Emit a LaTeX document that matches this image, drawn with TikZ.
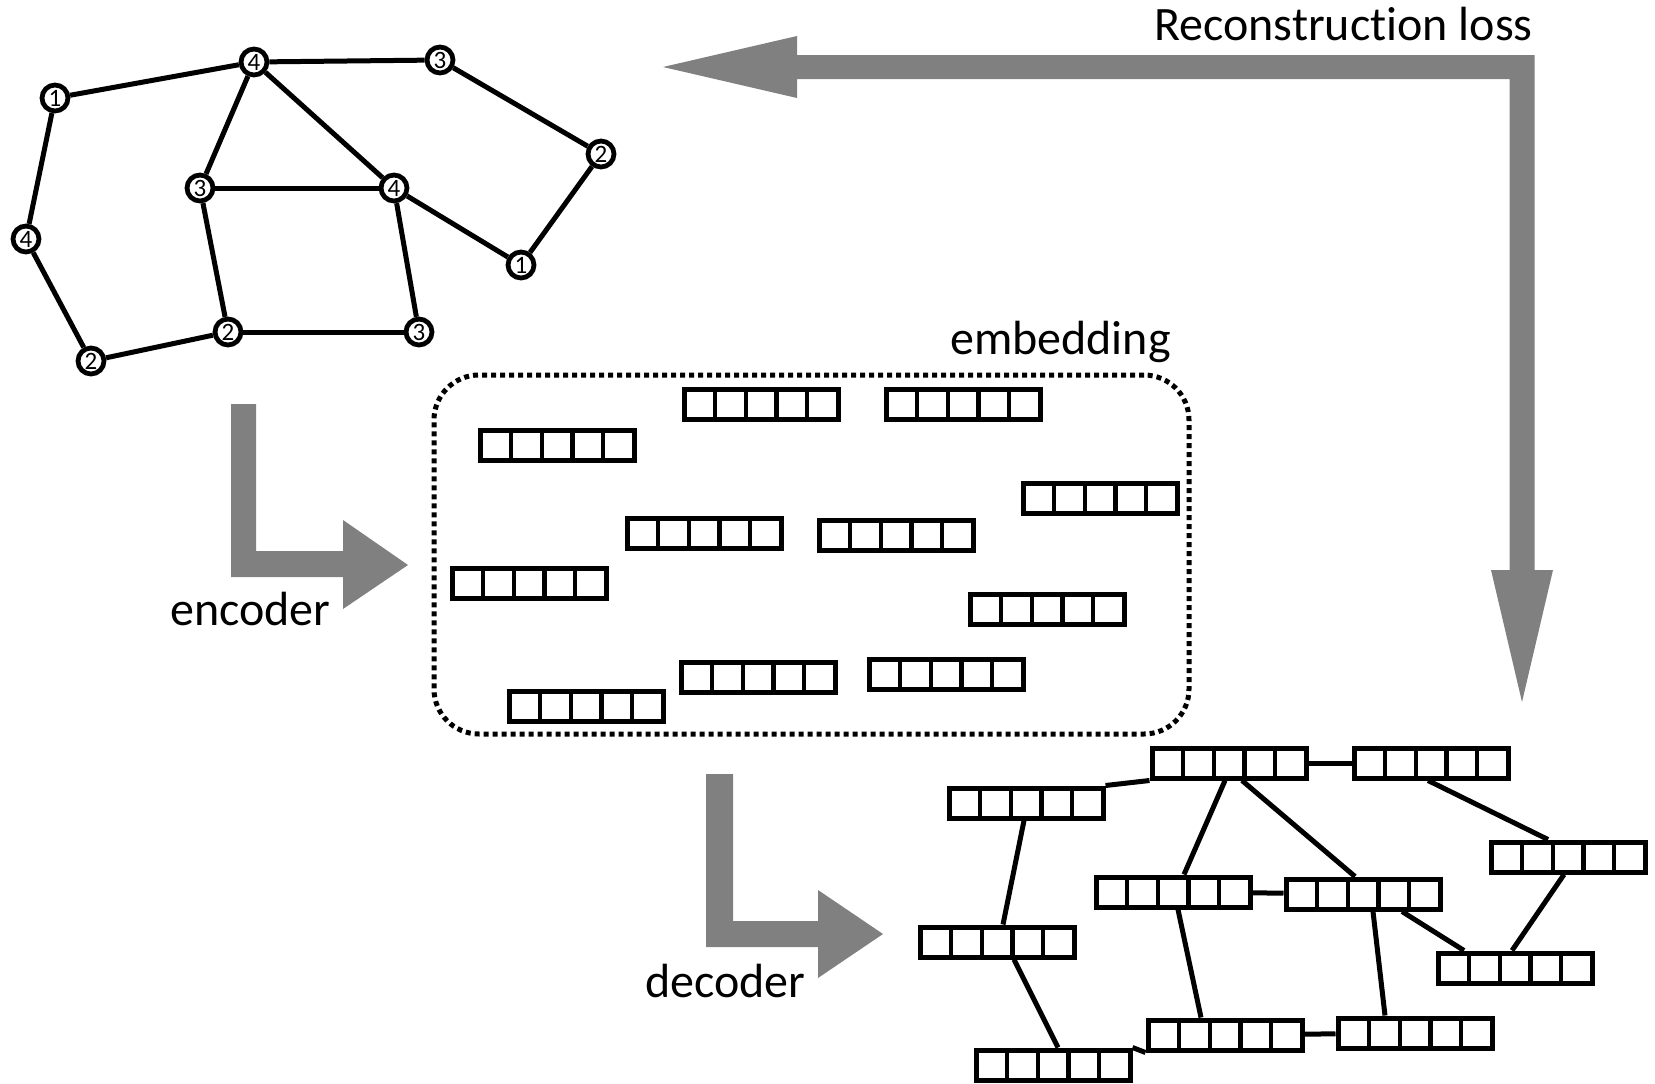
\documentclass[tikz,border=0pt]{standalone}
\usepackage{fontspec}
\setmainfont{Carlito}[Ligatures=NoCommon]
\usetikzlibrary{calc}
\begin{document}
\begin{tikzpicture}[x=1pt,y=-1pt,
  vec/.style={draw, line width=5pt, minimum width=154pt, minimum height=30pt, inner sep=0pt,
    path picture={\foreach \i in {1,2,3,4}{\draw[line width=4.2pt] ($(path picture bounding box.south west)!\i/5!(path picture bounding box.south east)$) -- ($(path picture bounding box.north west)!\i/5!(path picture bounding box.north east)$);}}},
  gn/.style={circle, draw, line width=4.8pt, minimum size=26pt, inner sep=0pt, fill=white, font=\fontsize{25}{25}\selectfont},
  ed/.style={line width=5pt},
  arr/.style={fill=black!50, draw=none},
  lbl/.style={inner sep=0pt, anchor=base west, font=\fontsize{48}{52}\selectfont}]
\useasboundingbox (0,0) rectangle (1655,1084);

% gray arrows
\fill[arr] (663,67) -- (797,36) -- (797,55) -- (1534.5,55) -- (1534.5,570) -- (1553,570) -- (1522,702) -- (1491,570) -- (1509.5,570) -- (1509.5,79) -- (797,79) -- (797,98) -- cycle;
\fill[arr] (231,404) -- (256,404) -- (256,551) -- (343,551) -- (343,520) -- (408,565) -- (343,609) -- (343,577) -- (231,577) -- cycle;
\fill[arr] (706,774) -- (733,774) -- (733,921) -- (818,921) -- (818,890) -- (883,934) -- (818,978) -- (818,947) -- (706,947) -- cycle;

% labels
\node[lbl, anchor=base east] (rl) at (1533,40) {Reconstruction loss};
\node[lbl] (embl) at (950,354) {embedding};
\node[lbl] (encl) at (170,625) {encoder};
\node[lbl] (decl) at (645,997) {decoder};

% top-left graph
\node[gn] (g1) at (55,98) {1};
\node[gn] (g4a) at (254,62) {4};
\node[gn] (g3a) at (440,60) {3};
\node[gn] (g2a) at (601,154) {2};
\node[gn] (g3b) at (200,188) {3};
\node[gn] (g4b) at (394,188) {4};
\node[gn] (g1b) at (521,265) {1};
\node[gn] (g4c) at (26,239) {4};
\node[gn] (g2b) at (91,361) {2};
\node[gn] (g2c) at (228,332) {2};
\node[gn] (g3c) at (419,332) {3};
\foreach \a/\b in {g1/g4a, g1/g4c, g4c/g2b, g2b/g2c, g4a/g3a, g4a/g3b, g4a/g4b, g3a/g2a, g2a/g1b, g3b/g4b, g3b/g2c, g4b/g1b, g4b/g3c, g2c/g3c}
  \draw[ed] (\a) -- (\b);

% embedding box
\node[draw, line width=5pt, dash pattern=on 5pt off 4pt, rounded corners=45pt, minimum width=755pt, minimum height=359pt, inner sep=0pt] (emb) at (811.5,554.5) {};
\node[vec] (e1) at (761,404) {};
\node[vec] (e2) at (963,404) {};
\node[vec] (e3) at (557,445) {};
\node[vec] (e4) at (1100,498) {};
\node[vec] (e5) at (704,533) {};
\node[vec] (e6) at (896,535) {};
\node[vec] (e7) at (529,583) {};
\node[vec] (e8) at (1047,609) {};
\node[vec] (e9) at (758,677) {};
\node[vec] (e10) at (946,674) {};
\node[vec] (e11) at (586,706) {};

% bottom-right graph
\node[vec] (b1) at (1229,763) {};
\node[vec] (b2) at (1431,763) {};
\node[vec] (b3) at (1026,803) {};
\node[vec] (b4) at (1568,857) {};
\node[vec] (b5) at (1173,892) {};
\node[vec] (b6) at (1363,894) {};
\node[vec] (b7) at (997,942) {};
\node[vec] (b8) at (1515,968) {};
\node[vec] (b9) at (1225,1035) {};
\node[vec] (b10) at (1415,1033) {};
\node[vec] (b11) at (1053,1065) {};

\draw[ed] (b3.north east) -- (b1.south west);
\draw[ed] (b1) -- (b2);
\draw[ed] ([xshift=-4pt]b1.south) -- ([xshift=11pt]b5.north);
\draw[ed] ([xshift=13pt]b1.south) -- ([xshift=-8pt]b6.north);
\draw[ed] ([xshift=-3pt]b2.south) -- ([xshift=-20pt]b4.north);
\draw[ed] ([xshift=-2pt]b3.south) -- ([xshift=6pt]b7.north);
\draw[ed] (b5) -- (b6);
\draw[ed] ([xshift=5pt]b5.south) -- ([xshift=-24pt]b9.north);
\draw[ed] ([xshift=39pt]b6.south) -- ([xshift=-51pt]b8.north);
\draw[ed] ([xshift=10pt]b6.south) -- ([xshift=-30pt]b10.north);
\draw[ed] ([xshift=-4pt]b4.south) -- ([xshift=-3pt]b8.north);
\draw[ed] ([xshift=17pt]b7.south) -- ([xshift=5pt]b11.north);
\draw[ed] (b9) -- (b10);
\draw[ed] (b11.north east) -- (b9.south west);
\end{tikzpicture}
\end{document}
